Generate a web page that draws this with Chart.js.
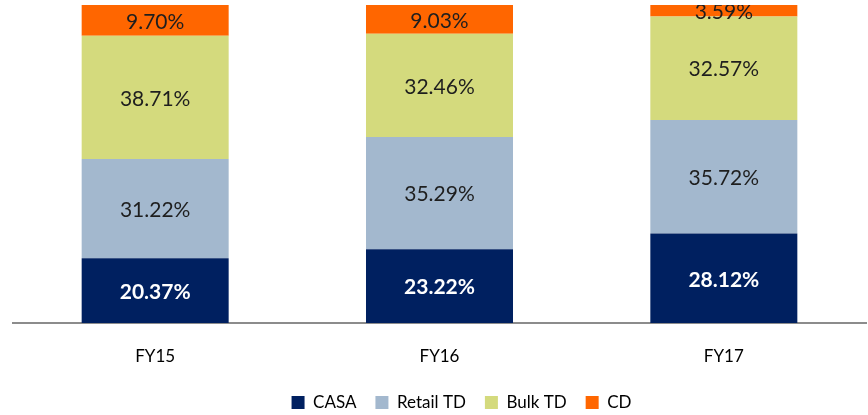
<!DOCTYPE html>
<html>
<head>
<meta charset="utf-8">
<script src="https://cdn.jsdelivr.net/npm/chart.js@4"></script>
<style>
  html, body { margin: 0; padding: 0; background: #ffffff; }
  #wrap { width: 868px; height: 415px; position: relative; }
</style>
</head>
<body>
<div id="wrap"><canvas id="c" width="868" height="415"></canvas></div>
<script>
const categories = ['FY15', 'FY16', 'FY17'];
const casa = [20.37, 23.22, 28.12];
const retailTD = [31.22, 35.29, 35.72];
const bulkTD = [38.71, 32.46, 32.57];
const cd = [9.70, 9.03, 3.59];
const seriesNames = ['CASA', 'Retail TD', 'Bulk TD', 'CD'];
const seriesColors = ['#002060', '#A3B8CE', '#D4DA7D', '#FF6600'];
const labelColors = ['#ffffff', '#1e1e1e', '#1e1e1e', '#1e1e1e'];

const FONT = 'Lato, "Open Sans", sans-serif';

const valueLabels = {
  id: 'valueLabels',
  afterDatasetsDraw(chart) {
    const ctx = chart.ctx;
    const area = chart.chartArea;
    ctx.save();
    ctx.beginPath();
    ctx.rect(area.left, area.top, area.right - area.left, area.bottom - area.top);
    ctx.clip();
    ctx.textAlign = 'center';
    ctx.textBaseline = 'middle';
    chart.data.datasets.forEach((ds, di) => {
      const meta = chart.getDatasetMeta(di);
      meta.data.forEach((bar, i) => {
        const v = ds.data[i];
        const cy = (bar.y + bar.base) / 2 + 1.5;
        ctx.font = (di === 0 ? 'bold ' : '') + '21px ' + FONT;
        ctx.fillStyle = labelColors[di];
        ctx.fillText(v.toFixed(2) + '%', bar.x, cy);
      });
    });
    ctx.restore();
  }
};

const legendShift = {
  id: 'legendShift',
  afterLayout(chart) {
    const lg = chart.legend;
    if (lg) {
      lg.left += 22; lg.right += 22;
      lg.top += 6; lg.bottom += 6;
    }
  }
};

new Chart(document.getElementById('c'), {
  type: 'bar',
  data: {
    labels: categories,
    datasets: [
      { label: seriesNames[0], data: casa, backgroundColor: seriesColors[0] },
      { label: seriesNames[1], data: retailTD, backgroundColor: seriesColors[1] },
      { label: seriesNames[2], data: bulkTD, backgroundColor: seriesColors[2] },
      { label: seriesNames[3], data: cd, backgroundColor: seriesColors[3] }
    ]
  },
  options: {
    responsive: false,
    animation: false,
    devicePixelRatio: 1,
    layout: { padding: { top: 5, left: 13, right: 2, bottom: 0 } },
    datasets: { bar: { barPercentage: 0.517, categoryPercentage: 1.0, borderWidth: 0 } },
    scales: {
      x: {
        stacked: true,
        grid: { display: false, drawTicks: false },
        border: { display: true, color: '#8c8c8c', width: 2 },
        ticks: { color: '#000000', font: { family: FONT, size: 17 }, padding: 23 },
        afterFit(scale) { scale.height = 46; }
      },
      y: {
        stacked: true,
        display: false,
        min: 0,
        max: 100
      }
    },
    plugins: {
      legend: {
        position: 'bottom',
        labels: {
          boxWidth: 13,
          boxHeight: 13,
          padding: 19,
          color: '#000000',
          font: { family: FONT, size: 17 }
        }
      },
      tooltip: { enabled: false }
    }
  },
  plugins: [valueLabels, legendShift]
});
</script>
</body>
</html>
